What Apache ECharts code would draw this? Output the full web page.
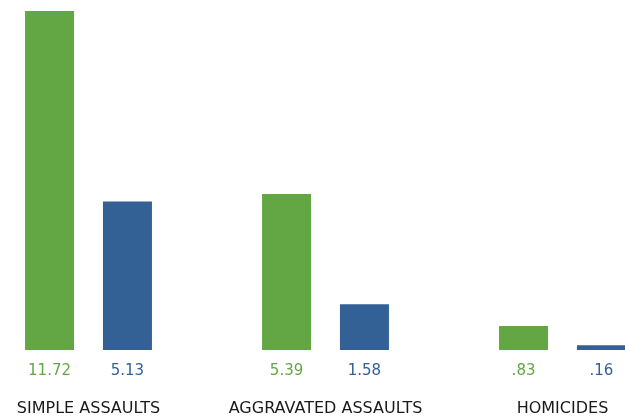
<!DOCTYPE html>
<html>
<head>
<meta charset="utf-8">
<script src="https://cdn.jsdelivr.net/npm/echarts@6/dist/echarts.min.js"></script>
<style>
  html, body { margin: 0; padding: 0; background: #fff; overflow: hidden; }
  /* chart is wider than the window so the outer bars touch the edges */
  #chart { width: 711px; height: 417px; margin-left: -30px; }
</style>
</head>
<body>
<div id="chart"></div>
<script>
const categories = ['SIMPLE ASSAULTS', 'AGGRAVATED ASSAULTS', 'HOMICIDES']
const greenValues = [11.72, 5.39, 0.83]
const blueValues = [5.13, 1.58, 0.16]

const green = '#62a744'
const blue = '#336196'
const font = 'DejaVu Sans'

// drop the leading zero like the source (.83)
const fmt = (p) => p.value.toFixed(2).replace(/^0\./, '.')

const chart = echarts.init(document.getElementById('chart'))

chart.setOption({
  animation: false,
  grid: { left: 0, right: 0, top: 11, bottom: 67 },
  xAxis: {
    type: 'category',
    data: categories,
    axisLine: { show: false },
    axisTick: { show: false },
    axisLabel: {
      margin: 51,
      color: '#1a1a1a',
      fontFamily: font,
      fontSize: 16,
      interval: 0
    }
  },
  yAxis: {
    type: 'value',
    min: 0,
    max: 11.72,
    show: false,
    splitLine: { show: false }
  },
  series: [
    {
      type: 'bar',
      data: greenValues,
      barWidth: 49,
      barGap: '59%',
      itemStyle: { color: green },
      label: {
        show: true,
        position: 'bottom',
        distance: 14,
        color: green,
        fontFamily: font,
        fontSize: 15,
        formatter: fmt
      }
    },
    {
      type: 'bar',
      data: blueValues,
      barWidth: 49,
      itemStyle: { color: blue },
      label: {
        show: true,
        position: 'bottom',
        distance: 14,
        color: blue,
        fontFamily: font,
        fontSize: 15,
        formatter: fmt
      }
    }
  ]
})
</script>
</body>
</html>
